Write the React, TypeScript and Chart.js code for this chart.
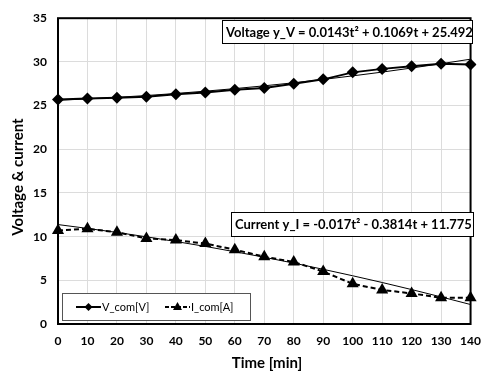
import React, { useEffect, useRef } from "react";
import { Chart, registerables } from "chart.js";

Chart.register(...registerables);

const times = [0, 10, 20, 30, 40, 50, 60, 70, 80, 90, 100, 110, 120, 130, 140];
const voltage = [25.7, 25.8, 25.9, 26.0, 26.3, 26.5, 26.8, 27.0, 27.5, 28.0, 28.8, 29.2, 29.5, 29.8, 29.7];
const current = [10.7, 10.9, 10.5, 9.8, 9.6, 9.2, 8.5, 7.7, 7.1, 6.0, 4.6, 3.9, 3.5, 3.0, 3.0];
const voltageTrend = [25.61, 25.76, 25.94, 26.15, 26.38, 26.65, 26.94, 27.26, 27.61, 27.99, 28.4, 28.83, 29.3, 29.79, 30.31];
const currentTrend = [11.38, 10.94, 10.48, 9.98, 9.44, 8.88, 8.27, 7.64, 6.97, 6.26, 5.52, 4.75, 3.94, 3.1, 2.23];
const yTicks = [0, 5, 10, 15, 20, 25, 30, 35];

const FONT = "Lato, 'Open Sans', sans-serif";

const overlay = {
  id: "overlay",
  afterDraw(chart: any) {
    const ctx = chart.ctx;
    const area = chart.chartArea;
    ctx.save();
    // plot border
    ctx.strokeStyle = "#000";
    ctx.lineWidth = 2;
    ctx.strokeRect(area.left, area.top, area.right - area.left, area.bottom - area.top);

    // axis titles
    ctx.fillStyle = "#000";
    ctx.font = `bold 15px ${FONT}`;
    ctx.textAlign = "center";
    ctx.textBaseline = "middle";
    ctx.fillText("Time [min]", 267, 363);
    ctx.save();
    ctx.translate(18, 177);
    ctx.rotate(-Math.PI / 2);
    ctx.fillText("Voltage & current", 0, 0);
    ctx.restore();

    // equation boxes
    const box = (text: string, x: number, y: number, w: number, h: number) => {
      ctx.fillStyle = "#fff";
      ctx.fillRect(x, y, w, h);
      ctx.strokeStyle = "#000";
      ctx.lineWidth = 1;
      ctx.strokeRect(x + 0.5, y + 0.5, w, h);
      ctx.fillStyle = "#000";
      ctx.font = `bold 13px ${FONT}`;
      ctx.textAlign = "left";
      ctx.textBaseline = "middle";
      ctx.fillText(text, x + 4, y + h / 2 + 1);
    };
    box("Voltage y_V = 0.0143t² + 0.1069t + 25.492", 222, 20, 250, 23);
    box("Current y_I = -0.017t² - 0.3814t + 11.775", 231, 212, 242, 24);

    // legend
    const lx = 62, ly = 293, lw = 188, lh = 27;
    ctx.fillStyle = "#fff";
    ctx.fillRect(lx, ly, lw, lh);
    ctx.strokeStyle = "#555";
    ctx.lineWidth = 1;
    ctx.strokeRect(lx + 0.5, ly + 0.5, lw, lh);
    const cy = ly + lh / 2 + 0.5;
    ctx.strokeStyle = "#000";
    ctx.lineWidth = 2;
    ctx.setLineDash([]);
    ctx.beginPath();
    ctx.moveTo(76, cy);
    ctx.lineTo(101, cy);
    ctx.stroke();
    ctx.fillStyle = "#000";
    ctx.beginPath();
    ctx.moveTo(88.5, cy - 4);
    ctx.lineTo(92.5, cy);
    ctx.lineTo(88.5, cy + 4);
    ctx.lineTo(84.5, cy);
    ctx.closePath();
    ctx.fill();
    ctx.setLineDash([4, 2]);
    ctx.beginPath();
    ctx.moveTo(165, cy);
    ctx.lineTo(190, cy);
    ctx.stroke();
    ctx.setLineDash([]);
    ctx.beginPath();
    ctx.moveTo(177.5, cy - 5);
    ctx.lineTo(182, cy + 3);
    ctx.lineTo(173, cy + 3);
    ctx.closePath();
    ctx.fill();
    ctx.font = `11px ${FONT}`;
    ctx.textAlign = "left";
    ctx.textBaseline = "middle";
    ctx.fillText("V_com[V]", 102, cy);
    ctx.fillText("I_com[A]", 191, cy);
    ctx.restore();
  },
};

export default function App() {
  const ref = useRef<HTMLCanvasElement>(null);
  useEffect(() => {
    document.body.style.margin = "0";
    const chart = new Chart(ref.current!, {
      type: "line",
      data: {
        labels: times,
        datasets: [
          {
            label: "V_com[V]",
            data: voltage,
            borderColor: "#000",
            backgroundColor: "#000",
            borderWidth: 2,
            pointStyle: "rectRot",
            pointRadius: 6,
            pointBorderWidth: 0,
          },
          {
            label: "I_com[A]",
            data: current,
            borderColor: "#000",
            backgroundColor: "#000",
            borderWidth: 2,
            borderDash: [5, 3],
            pointStyle: "triangle",
            pointRadius: 7,
            pointBorderWidth: 0,
          },
          {
            label: "V trend",
            data: voltageTrend,
            borderColor: "#000",
            borderWidth: 1,
            pointRadius: 0,
          },
          {
            label: "I trend",
            data: currentTrend,
            borderColor: "#000",
            borderWidth: 1,
            pointRadius: 0,
          },
        ],
      },
      options: {
        animation: false,
        responsive: false,
        maintainAspectRatio: false,
        layout: { padding: { top: 13, right: 11, left: 0, bottom: 0 } },
        plugins: { legend: { display: false }, tooltip: { enabled: false } },
        scales: {
          x: {
            type: "category",
            offset: false,
            grid: { color: "#dcdcdc", lineWidth: 1, drawTicks: false },
            border: { display: false },
            ticks: {
              color: "#000",
              font: { family: FONT, weight: "bold", size: 12 },
              padding: 10,
              maxRotation: 0,
              autoSkip: false,
            },
            afterFit: (s: any) => {
              s.height = 53;
            },
          },
          y: {
            min: 0,
            max: 35,
            afterBuildTicks: (s: any) => {
              s.ticks = yTicks.map((v) => ({ value: v }));
            },
            grid: { color: "#dcdcdc", lineWidth: 1, drawTicks: false },
            border: { display: false },
            ticks: {
              color: "#000",
              font: { family: FONT, weight: "bold", size: 12 },
              padding: 11,
            },
            afterFit: (s: any) => {
              s.width = 58;
            },
          },
        },
      },
      plugins: [overlay],
    });
    return () => chart.destroy();
  }, []);
  return (
    <div style={{ position: "fixed", left: 0, top: 0, width: 491, height: 377 }}>
      <canvas ref={ref} width={491} height={377} />
    </div>
  );
}
